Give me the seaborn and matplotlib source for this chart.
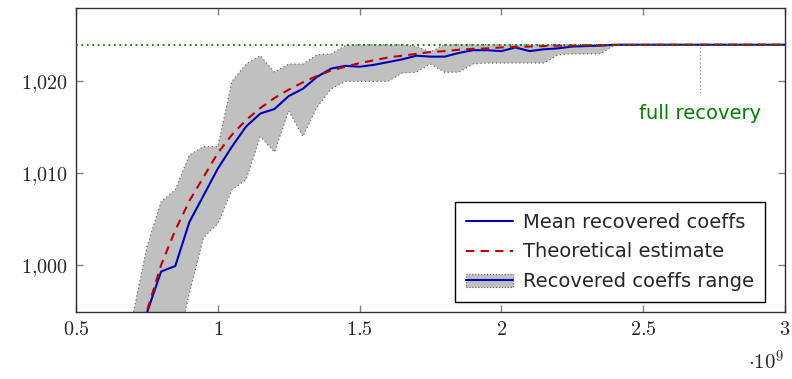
import numpy as np
import pandas as pd
import matplotlib
matplotlib.use("Agg")
import matplotlib.pyplot as plt
from matplotlib.patches import Patch
from matplotlib.lines import Line2D
import seaborn as sns

# ── Data (x in units of 1e9) ─────────────────────────────────────────────────
x_vals = [0.70, 0.75, 0.80, 0.85, 0.90, 0.95, 1.00, 1.05, 1.10, 1.15, 1.20,
          1.25, 1.30, 1.35, 1.40, 1.45, 1.50, 1.55, 1.60, 1.65, 1.70, 1.75,
          1.80, 1.85, 1.90, 1.95, 2.00, 2.05, 2.10, 2.15, 2.20, 2.25, 2.30,
          2.35, 2.40, 2.50, 2.60, 2.70, 2.80, 2.90, 3.00]

mean_recovered = [988.0, 994.8, 999.3, 999.9, 1004.7, 1007.6, 1010.5, 1012.9,
                  1015.1, 1016.5, 1017.0, 1018.4, 1019.2, 1020.5, 1021.4,
                  1021.7, 1021.6, 1021.8, 1022.1, 1022.4, 1022.8, 1022.7,
                  1022.7, 1023.1, 1023.4, 1023.4, 1023.3, 1023.7, 1023.3,
                  1023.5, 1023.6, 1023.8, 1023.85, 1023.9, 1024.0, 1024.0,
                  1024.0, 1024.0, 1024.0, 1024.0, 1024.0]

theoretical = [989.0, 995.0, 1000.0, 1003.8, 1007.0, 1009.6, 1012.2, 1014.2,
               1015.8, 1017.1, 1018.2, 1019.1, 1019.9, 1020.6, 1021.2, 1021.6,
               1022.0, 1022.3, 1022.6, 1022.8, 1023.0, 1023.2, 1023.3,
               1023.45, 1023.55, 1023.6, 1023.7, 1023.75, 1023.8, 1023.85,
               1023.9, 1023.9, 1023.93, 1023.95, 1023.96, 1023.98, 1023.99,
               1024.0, 1024.0, 1024.0, 1024.0]

range_upper = [994.5, 1002.0, 1006.9, 1008.2, 1012.0, 1012.9, 1012.9, 1020.0,
               1021.9, 1022.8, 1021.0, 1021.9, 1021.9, 1022.9, 1023.0, 1023.9,
               1024.0, 1024.0, 1024.0, 1024.0, 1023.8, 1023.2, 1024.0, 1024.0,
               1024.0, 1024.0, 1024.0, 1024.0, 1024.0, 1024.0, 1024.0, 1024.0,
               1024.0, 1024.0, 1024.0, 1024.0, 1024.0, 1024.0, 1024.0, 1024.0,
               1024.0]

range_lower = [975.0, 983.0, 989.0, 990.0, 997.0, 1003.0, 1004.5, 1008.2,
               1009.3, 1014.0, 1012.3, 1016.8, 1014.0, 1017.2, 1019.2, 1020.0,
               1020.0, 1020.0, 1020.0, 1020.9, 1021.0, 1021.9, 1021.0, 1021.0,
               1021.9, 1022.0, 1022.0, 1022.0, 1022.0, 1022.0, 1022.9, 1023.0,
               1023.0, 1023.0, 1024.0, 1024.0, 1024.0, 1024.0, 1024.0, 1024.0,
               1024.0]

full_recovery = 1024
x_ticks = [0.5, 1, 1.5, 2, 2.5, 3]
x_tick_labels = ["0.5", "1", "1.5", "2", "2.5", "3"]
y_ticks = [1000, 1010, 1020]
y_tick_labels = ["1,000", "1,010", "1,020"]

# ── Style ────────────────────────────────────────────────────────────────────
BLUE = "#0000bf"
RED = "#bf0000"
GREEN = "#008000"
GRAY = "#c0c0c0"

sns.set_style("ticks")
plt.rcParams["font.family"] = ["DejaVu Sans"]
plt.rcParams["mathtext.fontset"] = "cm"

df = pd.DataFrame({"x": x_vals, "mean": mean_recovered, "theory": theoretical,
                   "lo": range_lower, "hi": range_upper})

fig = plt.figure(figsize=(7.92, 3.79), dpi=100)
ax = fig.add_axes([0.096, 0.177, 0.895, 0.802])

# band
ax.fill_between(df["x"], df["lo"], df["hi"], color=GRAY, linewidth=0, zorder=1)
ax.plot(df["x"], df["lo"], color="#555555", lw=0.8, ls=(0, (1, 2.5)), zorder=1.5)
ax.plot(df["x"], df["hi"], color="#555555", lw=0.8, ls=(0, (1, 2.5)), zorder=1.5)

# green reference line
ax.axhline(full_recovery, color=GREEN, lw=1.3, ls=(0, (1, 2)), zorder=4)

sns.lineplot(data=df, x="x", y="mean", color=BLUE, lw=1.5, ax=ax, zorder=3)
sns.lineplot(data=df, x="x", y="theory", color=RED, lw=1.5, ax=ax,
             linestyle=(0, (4, 3)), zorder=3)

# annotation
ax.plot([2.7, 2.7], [1023.8, 1018.7], color="#888888", lw=0.9,
        ls=(0, (1, 2)), zorder=2)
ax.text(2.7, 1016.5, "full recovery", color=GREEN, fontsize=14,
        ha="center", va="center")

ax.set_xlim(0.5, 3)
ax.set_ylim(994.9, 1028)
ax.set_xlabel("")
ax.set_ylabel("")
ax.set_xticks(x_ticks)
ax.set_xticklabels(["$" + t + "$" for t in x_tick_labels], fontsize=14.5)
ax.set_yticks(y_ticks)
ax.set_yticklabels(["$" + t.replace(",", "{,}") + "$" for t in y_tick_labels],
                   fontsize=14.5)
ax.tick_params(direction="in", length=5, width=1, color="#808080",
               top=True, right=True, pad=6)
for s in ax.spines.values():
    s.set_color("#303030")
    s.set_linewidth(1.0)

fig.text(0.99, 0.045, r"$\cdot 10^9$", fontsize=15, ha="right", va="center")

# legend
handles = [
    Line2D([], [], color=BLUE, lw=1.5),
    Line2D([], [], color=RED, lw=1.5, ls=(0, (4, 3))),
    (Patch(facecolor=GRAY, edgecolor="#555555", linestyle=":", linewidth=0.8),
     Line2D([], [], color=BLUE, lw=1.5)),
]
labels = ["Mean recovered coeffs", "Theoretical estimate", "Recovered coeffs range"]
leg = ax.legend(handles, labels, loc="lower right", bbox_to_anchor=(0.972, 0.033),
                fontsize=14, frameon=True, fancybox=False, framealpha=1,
                edgecolor="black", handlelength=2.4, handletextpad=0.55,
                borderpad=0.55, labelspacing=0.55, borderaxespad=0)
leg.get_frame().set_linewidth(1.0)

fig.savefig("out.png", dpi=100)
